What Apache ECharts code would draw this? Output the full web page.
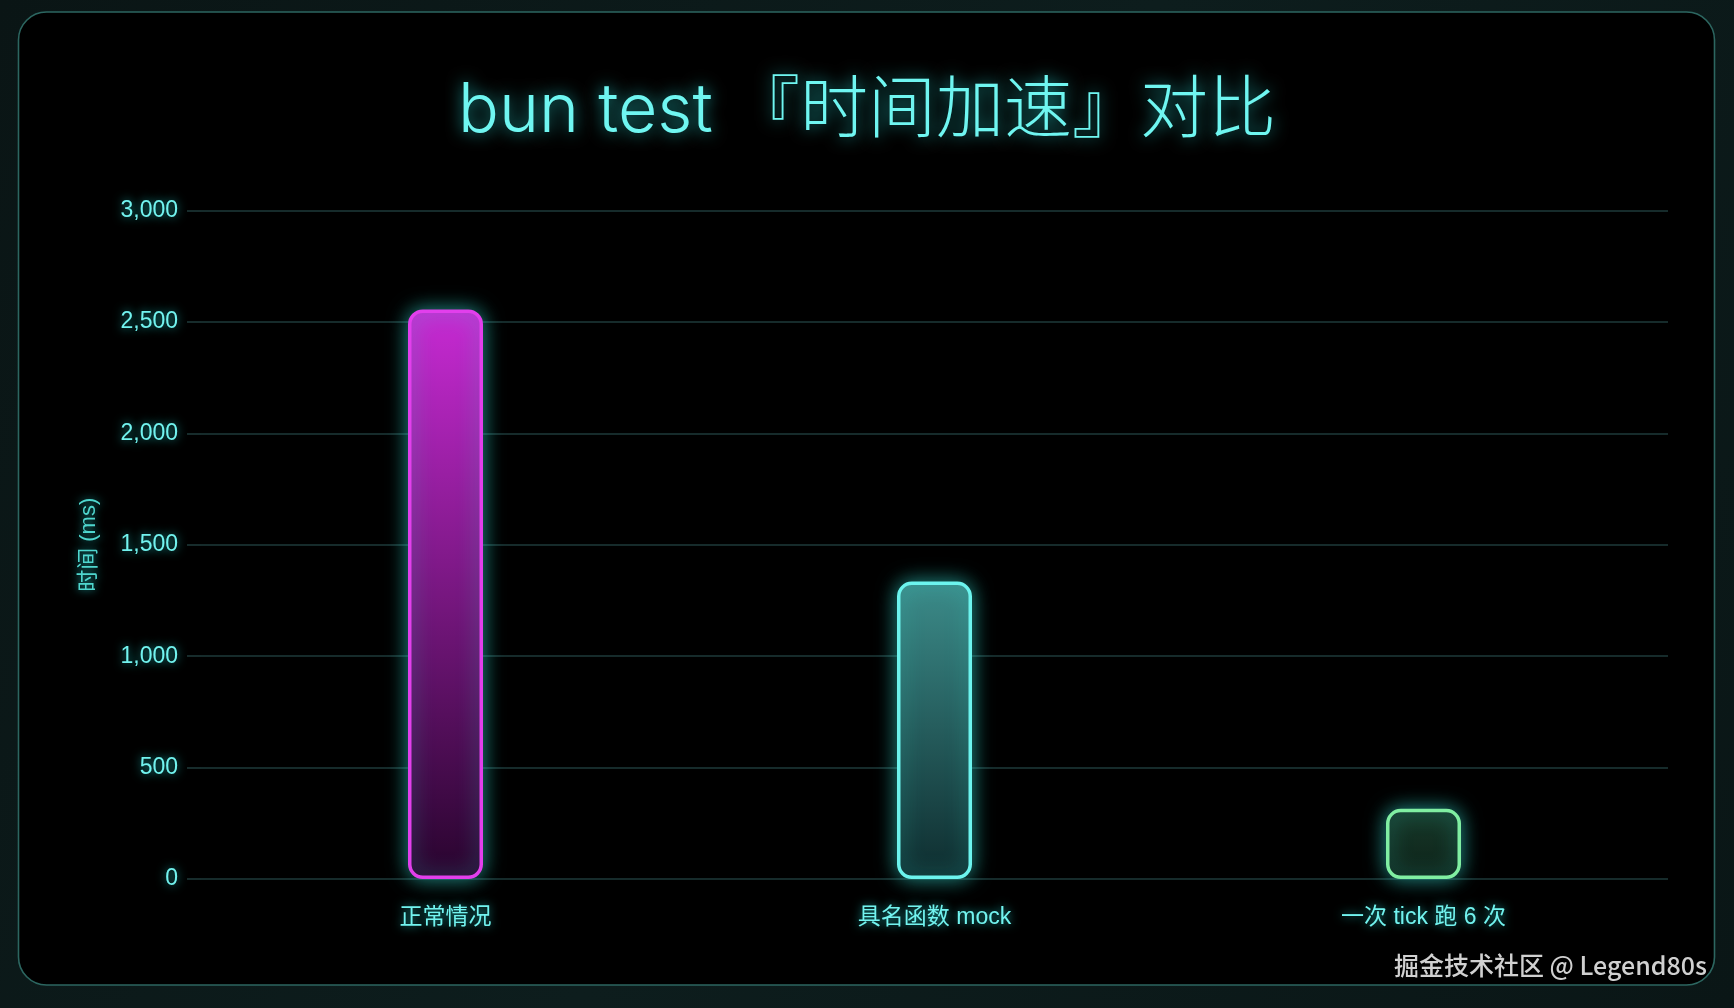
<!DOCTYPE html>
<html>
<head>
<meta charset="utf-8">
<script src="https://cdn.jsdelivr.net/npm/echarts@6/dist/echarts.min.js"></script>
<style>
html,body{margin:0;padding:0;width:100%;height:100%;background:#0b1717;overflow:hidden;}
#chart{width:1734px;height:1008px;}
</style>
</head>
<body>
<div id="chart"></div>
<script>
const titleText = 'bun test 『时间加速』对比';
const yAxisName = '时间 (ms)';
const categories = ['正常情况', '具名函数 mock', '一次 tick 跑 6 次'];
const values = [2556, 1335, 315];
const yMin = 0, yMax = 3000, yStep = 500;
const watermark = '掘金技术社区 @ Legend80s';

const barStyles = [
  {top: '#c72ad3', bottom: '#28042d', border: '#e23fec'},
  {top: '#3c8c8a', bottom: '#0e2c2e', border: '#6cf4ee'},
  {top: '#17392a', bottom: '#0e2218', border: '#80eea2'}
];

const chart = echarts.init(document.getElementById('chart'));
const cyanText = '#72f3ef';
const glow = 'rgba(40,230,225,0.75)';
const sansFont = '"Liberation Sans", "Noto Sans CJK SC", sans-serif';

chart.setOption({
  backgroundColor: {
    type: 'linear', x: 0, y: 0, x2: 1, y2: 1,
    colorStops: [{offset: 0, color: '#0a1515'}, {offset: 0.5, color: '#0d1d1d'}, {offset: 1, color: '#0a1616'}]
  },
  graphic: [{
    type: 'rect', z: -10, silent: true,
    shape: {x: 18.5, y: 12, width: 1696, height: 973, r: 28},
    style: {fill: '#000000', stroke: '#2c6660', lineWidth: 1.6}
  }, {
    type: 'text', z: 10, silent: true,
    right: 1734 - 1707, top: 953,
    style: {text: watermark, fill: '#d0d0d0', font: '500 25px "Noto Sans CJK SC", "Noto Sans", sans-serif'}
  }],
  title: {
    text: titleText,
    left: 'center',
    top: 73,
    textStyle: {
      color: '#6ff6f1',
      fontSize: 68,
      fontWeight: 300,
      fontFamily: 'Inter, "Noto Sans CJK SC", sans-serif',
      textShadowColor: glow,
      textShadowBlur: 16
    }
  },
  grid: {left: 201, right: 66, top: 210.6, bottom: 129},
  xAxis: {
    type: 'category',
    data: categories,
    axisLine: {show: false},
    axisTick: {show: false},
    axisLabel: {
      margin: 27,
      color: cyanText,
      fontSize: 23,
      fontFamily: sansFont,
      textShadowColor: glow,
      textShadowBlur: 10
    }
  },
  yAxis: {
    type: 'value',
    min: yMin, max: yMax, interval: yStep,
    name: yAxisName,
    nameLocation: 'middle',
    nameGap: 101,
    nameRotate: 90,
    nameTextStyle: {
      color: '#4fd6ce',
      fontSize: 22,
      fontFamily: sansFont,
      textShadowColor: glow,
      textShadowBlur: 8
    },
    axisLine: {show: false},
    axisTick: {show: true, length: 14, lineStyle: {color: '#1f3b3b', width: 1.5}},
    splitLine: {lineStyle: {color: '#1e3a3a', width: 1.5}},
    axisLabel: {
      margin: 23,
      color: cyanText,
      fontSize: 23,
      fontFamily: sansFont,
      textShadowColor: glow,
      textShadowBlur: 10,
      formatter: v => v.toLocaleString('en-US')
    }
  },
  series: [{
    type: 'bar',
    barWidth: 75,
    data: values.map((v, i) => ({
      value: v,
      itemStyle: {
        color: {
          type: 'linear', x: 0, y: 0, x2: 0, y2: 1,
          colorStops: [{offset: 0, color: barStyles[i].top}, {offset: 1, color: barStyles[i].bottom}]
        },
        borderColor: barStyles[i].border,
        borderWidth: 3.5,
        borderRadius: 13,
        shadowBlur: 20,
        shadowColor: 'rgba(50,215,205,0.65)'
      }
    })),
    emphasis: {disabled: true}
  }]
});
</script>
</body>
</html>
